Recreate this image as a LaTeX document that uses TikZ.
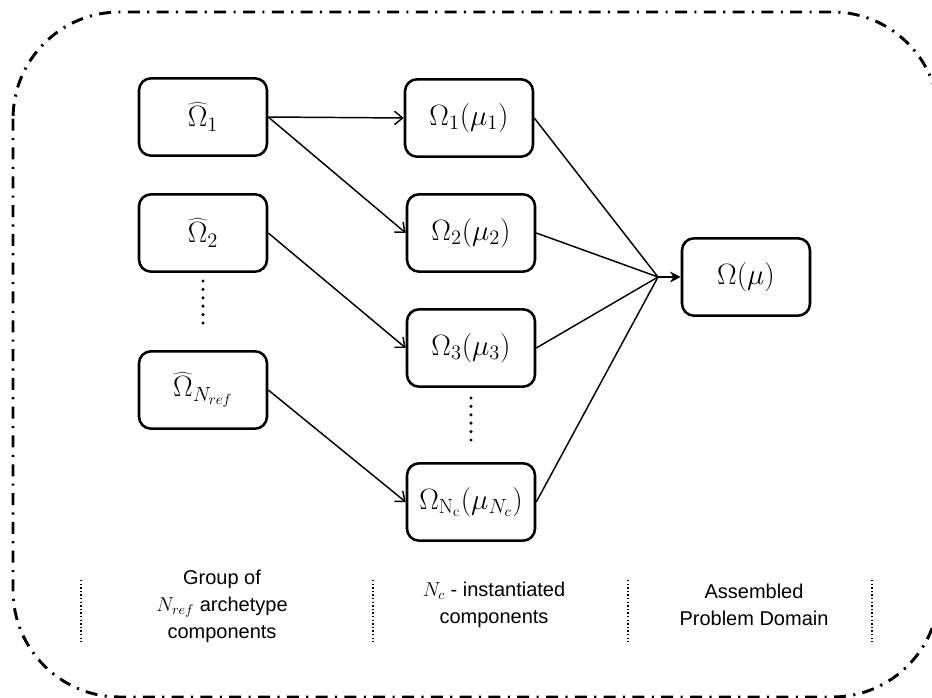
\RequirePackage{fix-cm}
\documentclass[tikz,border=0pt]{standalone}
\usepackage{fontspec}
\setsansfont{Liberation Sans}
\usetikzlibrary{arrows.meta}
\begin{document}
\begin{tikzpicture}[x=0.75pt,y=-0.75pt,
  box/.style={draw, line width=1.9pt, rounded corners=9pt, minimum width=96pt,
    minimum height=58pt, inner sep=0pt, font=\fontsize{22}{26}\selectfont},
  link/.style={line width=1.1pt, -{Straight Barb[length=6pt,width=10pt]}},
  feed/.style={line width=1.1pt},
  lbl/.style={font=\sffamily\fontsize{15}{20.25}\selectfont, align=center},
  sep/.style={line width=1.1pt, dash pattern=on 1.1pt off 1.6pt},
  dots/.style={line width=2.6pt, line cap=round, dash pattern=on 0pt off 6.3pt},
  frame/.style={line width=2.2pt, dash pattern=on 9pt off 5.5pt on 1.6pt off 5.5pt}]
\useasboundingbox (0,0) rectangle (932,698);
\clip (0,0) rectangle (932,698);

% enclosing frame
\draw[frame, rounded corners=80pt] (13,12) rectangle (939,697);

% archetype components
\node[box] (s1) at (203,117) {$\widehat{\Omega}_1$};
\node[box] (s2) at (203,233) {$\widehat{\Omega}_2$};
\node[box] (sN) at (203,390) {$\widehat{\Omega}_{N_{ref}}$};

% instantiated components
\node[box] (c1) at (469,118) {$\Omega_1(\mu_1)$};
\node[box] (c2) at (471,233) {$\Omega_2(\mu_2)$};
\node[box] (c3) at (471,348) {$\Omega_3(\mu_3)$};
\node[box] (cN) at (471,502) {$\Omega_{\mathrm{N_c}}(\mu_{N_c})$};

% assembled domain
\node[box] (dom) at (746,277) {$\Omega(\mu)$};

% vertical ellipses
\coordinate (d1a) at (203,281);
\coordinate (d1b) at (203,323);
\coordinate (d2a) at (471,398);
\coordinate (d2b) at (471,440);
\draw[dots] (d1a) -- (d1b);
\draw[dots] (d2a) -- (d2b);

% instantiation arrows
\draw[link] (s1.east) -- (c1.west);
\draw[link] (s1.east) -- (c2.west);
\draw[link] (s2.east) -- (c3.west);
\draw[link] (sN.east) -- (cN.west);

% assembly
\coordinate (join) at (658,277);
\draw[feed] (c1.east) -- (join);
\draw[feed] (c2.east) -- (join);
\draw[feed] (c3.east) -- (join);
\draw[feed] (cN.east) -- (join);
\draw[feed, -{Stealth[length=8pt,width=8pt]}] (join) -- (dom.west);

% column separators
\coordinate (p1a) at (81,580);  \coordinate (p1b) at (81,642);
\coordinate (p2a) at (373,580); \coordinate (p2b) at (373,642);
\coordinate (p3a) at (628,580); \coordinate (p3b) at (628,642);
\coordinate (p4a) at (872,580); \coordinate (p4b) at (872,642);
\draw[sep] (p1a) -- (p1b);
\draw[sep] (p2a) -- (p2b);
\draw[sep] (p3a) -- (p3b);
\draw[sep] (p4a) -- (p4b);

% column captions
\node[lbl] (t1) at (222,606) {Group of\\$N_{ref}$ archetype\\components};
\node[lbl] (t2) at (494,605) {$N_c$ - instantiated\\components};
\node[lbl] (t3) at (754,605) {Assembled\\Problem Domain};
\end{tikzpicture}
\end{document}
